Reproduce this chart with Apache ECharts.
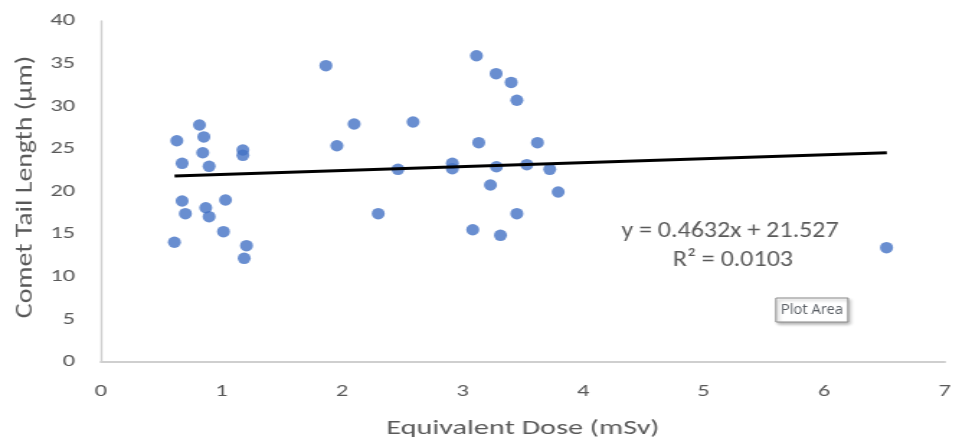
<!DOCTYPE html>
<html><head><meta charset="utf-8">
<script src="https://cdn.jsdelivr.net/npm/echarts@6/dist/echarts.min.js"></script>
<style>html,body{margin:0;padding:0;background:#fff;overflow:hidden}
#c{width:662.5px;height:445px;transform:scaleX(1.44);transform-origin:0 0}</style>
</head><body><div id="c"></div>
<script>
var doseValues = [0.817,0.629,0.853,0.844,1.177,1.177,0.673,0.897,0.673,1.033,0.869,0.700,0.897,1.016,0.609,1.207,1.188,
  1.866,2.100,1.957,2.300,2.589,2.464,
  3.115,3.278,3.403,3.450,3.134,3.621,2.915,2.915,3.281,3.533,3.723,3.231,3.793,3.450,3.084,3.314,
  6.517];
var tailLengths = [27.8,25.96,26.4,24.55,24.87,24.24,23.3,22.95,18.89,19.0,18.1,17.4,17.05,15.29,14.04,13.65,12.16,
  34.76,27.92,25.37,17.4,28.15,22.6,
  35.93,33.82,32.8,30.7,25.73,25.73,23.3,22.68,22.9,23.15,22.6,20.76,19.94,17.4,15.52,14.86,
  13.41];
var trendX = [0.61, 6.52];
var trendY = [21.81, 24.55];
var xTicks = [0,1,2,3,4,5,6,7];
var yTicks = [0,5,10,15,20,25,30,35,40];
var xTitle = 'Equivalent Dose (mSv)';
var yTitle = 'Comet Tail Length (μm)';
var equationText = 'y = 0.4632x + 21.527';
var r2Text = 'R² = 0.0103';

var S = 1.44; // horizontal stretch of the reference picture
var pts = doseValues.map(function(x,i){return [x, tailLengths[i]];});
var trend = trendX.map(function(x,i){return [x, trendY[i]];});
var font = 'Carlito, Calibri, "Liberation Sans Narrow", sans-serif';
var chart = echarts.init(document.getElementById('c'));
chart.setOption({
  animation:false,
  grid:{left:101/S,right:10/S,top:21,bottom:83,containLabel:false,outerBoundsMode:'none'},
  xAxis:{type:'value',min:0,max:7,interval:1,
    name:xTitle,nameLocation:'middle',nameGap:56,
    nameTextStyle:{fontFamily:font,fontSize:21,color:'#595959'},
    axisLine:{show:true,lineStyle:{color:'#cfcfcf',width:2}},axisTick:{show:false},splitLine:{show:false},
    axisLabel:{fontFamily:font,fontSize:17,color:'#595959',margin:21,formatter:function(v){return xTicks.indexOf(v)>=0?String(v):'';}}},
  yAxis:{type:'value',min:0,max:40,interval:5,
    axisLine:{show:true,lineStyle:{color:'#cfcfcf',width:1.4}},axisTick:{show:false},splitLine:{show:false},
    axisLabel:{fontFamily:font,fontSize:17,color:'#595959',margin:18,formatter:function(v){return yTicks.indexOf(v)>=0?String(v):'';}}},
  series:[
    {type:'scatter',data:pts,symbol:'circle',symbolSize:[13/S,11.5],itemStyle:{color:'#4472C4'},z:3},
    {type:'line',data:trend,symbol:'none',lineStyle:{color:'#000',width:3},z:4}
  ],
  graphic:[
    {type:'text',x:25/S,y:187,rotation:Math.PI/2,scaleX:1.16,scaleY:1/S,style:{text:yTitle,x:0,y:0,fill:'#595959',font:'24px '+font,align:'center',verticalAlign:'middle'},z:10},
    {type:'text',x:730/S,y:231,scaleX:0.785,style:{text:equationText,x:0,y:0,fill:'#595959',font:'23px '+font,align:'center',verticalAlign:'middle'},z:10},
    {type:'text',x:733/S,y:260,scaleX:0.785,style:{text:r2Text,x:0,y:0,fill:'#595959',font:'23px '+font,align:'center',verticalAlign:'middle'},z:10},
    {type:'rect',shape:{x:776/S,y:298,width:72/S,height:24},style:{fill:'#fff',stroke:'#8a8a8a',lineWidth:1,shadowBlur:3,shadowOffsetX:1.5,shadowOffsetY:2,shadowColor:'rgba(0,0,0,0.3)'},z:10},
    {type:'text',x:812/S,y:310,scaleX:1.05/S,style:{text:'Plot Area',x:0,y:0,fill:'#555a60',font:'14px "Open Sans", sans-serif',align:'center',verticalAlign:'middle'},z:11}
  ]
});
</script></body></html>
